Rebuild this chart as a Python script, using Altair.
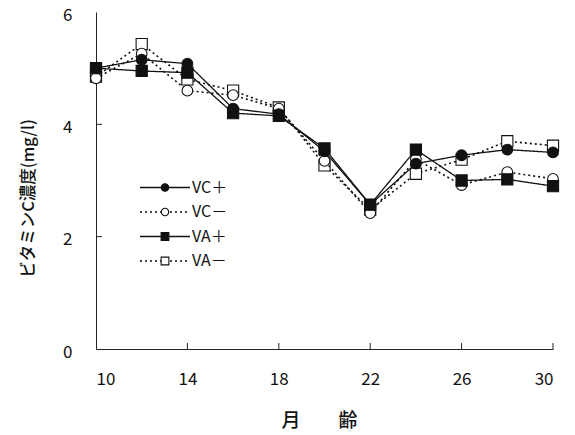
import altair as alt
import pandas as pd

months = [10, 12, 14, 16, 18, 20, 22, 24, 26, 28, 30]
vc_plus = [5.00, 5.15, 5.08, 4.28, 4.18, 3.52, 2.57, 3.30, 3.45, 3.55, 3.50]
vc_minus = [4.82, 5.26, 4.60, 4.52, 4.28, 3.35, 2.42, 3.38, 2.92, 3.15, 3.03]
va_plus = [5.00, 4.95, 4.92, 4.20, 4.15, 3.57, 2.57, 3.55, 3.00, 3.02, 2.90]
va_minus = [4.85, 5.43, 4.80, 4.60, 4.30, 3.27, 2.48, 3.12, 3.37, 3.70, 3.62]
series_labels = ["VC＋", "VC－", "VA＋", "VA－"]
x_ticks = [10, 14, 18, 22, 26, 30]
y_ticks = [0, 2, 4, 6]

FONT = "Noto Sans CJK JP"
W, H = 457, 337

styles = {
    "VC＋": dict(shape="circle", filled=True, dash=[1, 0], size=115),
    "VC－": dict(shape="circle", filled=False, dash=[2, 3], size=115),
    "VA＋": dict(shape="square", filled=True, dash=[1, 0], size=125),
    "VA－": dict(shape="square", filled=False, dash=[2, 3], size=125),
}
values = {"VC＋": vc_plus, "VC－": vc_minus, "VA＋": va_plus, "VA－": va_minus}

xscale = alt.Scale(domain=[10, 30], nice=False, zero=False)
yscale = alt.Scale(domain=[0, 6], nice=False)

axis_style = dict(labelFont=FONT, titleFont=FONT, labelFontSize=17,
                  labelColor="#111", titleColor="#111",
                  ticks=False, grid=False, domainColor="#222", format="d")

xenc = alt.X("month:Q", scale=xscale,
             axis=alt.Axis(values=x_ticks, title="月　　齢", titleFontSize=19,
                           titleFontWeight=500,
                           labelPadding=22, titlePadding=24, titleX=223, **axis_style))
yenc = alt.Y("value:Q", scale=yscale,
             axis=alt.Axis(values=y_ticks, title="ビタミンC濃度(mg/l)", titleFontSize=16.5,
                           titleFontWeight=500,
                           labelPadding=24, labelOffset=3, titleX=-60, titleY=186,
                           **axis_style))

layers = []
# axis ticks pointing inward
xt = pd.DataFrame({"month": x_ticks[1:]})
layers.append(alt.Chart(xt).mark_rule(color="#222", strokeWidth=1).encode(
    x=alt.X("month:Q", scale=xscale), y=alt.value(H), y2=alt.value(H - 6)))
yt = pd.DataFrame({"value": y_ticks[1:3]})
layers.append(alt.Chart(yt).mark_rule(color="#222", strokeWidth=1).encode(
    y=alt.Y("value:Q", scale=yscale), x=alt.value(0), x2=alt.value(6)))

order = ["VA－", "VC－", "VA＋", "VC＋"]
for name in order:
    st = styles[name]
    df = pd.DataFrame({"month": months, "value": values[name]})
    base = alt.Chart(df)
    layers.append(base.mark_line(color="#111", strokeWidth=1.3 if st["filled"] else 1.6,
                                 strokeDash=st["dash"]).encode(x=xenc, y=yenc))
    layers.append(base.mark_point(shape=st["shape"], filled=True,
                                  fill="#111" if st["filled"] else "white",
                                  stroke="#111", strokeWidth=1.1, size=st["size"], opacity=1).encode(
        x=xenc, y=yenc))

# legend
one = alt.Data(values=[{}])
for i, name in enumerate(series_labels):
    st = styles[name]
    ly = 175.5 + i * 24.5
    layers.append(alt.Chart(one).mark_rule(color="#111", strokeWidth=1.3 if st["filled"] else 1.6,
                                           strokeDash=st["dash"]).encode(
        x=alt.value(44), x2=alt.value(94), y=alt.value(ly)))
    layers.append(alt.Chart(one).mark_point(shape=st["shape"], filled=True,
                                            fill="#111" if st["filled"] else "white",
                                            stroke="#111", strokeWidth=1.1,
                                            size=55 if st["shape"] == "circle" else 60, opacity=1).encode(
        x=alt.value(69), y=alt.value(ly)))
    layers.append(alt.Chart(one).mark_text(align="left", baseline="middle", font=FONT,
                                           fontSize=16, color="#111").encode(
        x=alt.value(96), y=alt.value(ly), text=alt.value(name)))

chart = alt.layer(*layers).properties(
    width=W, height=H,
    background="white",
    autosize=alt.AutoSizeParams(type="none"),
    padding={"left": 96, "top": 12, "right": 22, "bottom": 86},
).configure_view(stroke=None)

chart.save("out.html", embed_options={"renderer": "svg", "actions": False})
